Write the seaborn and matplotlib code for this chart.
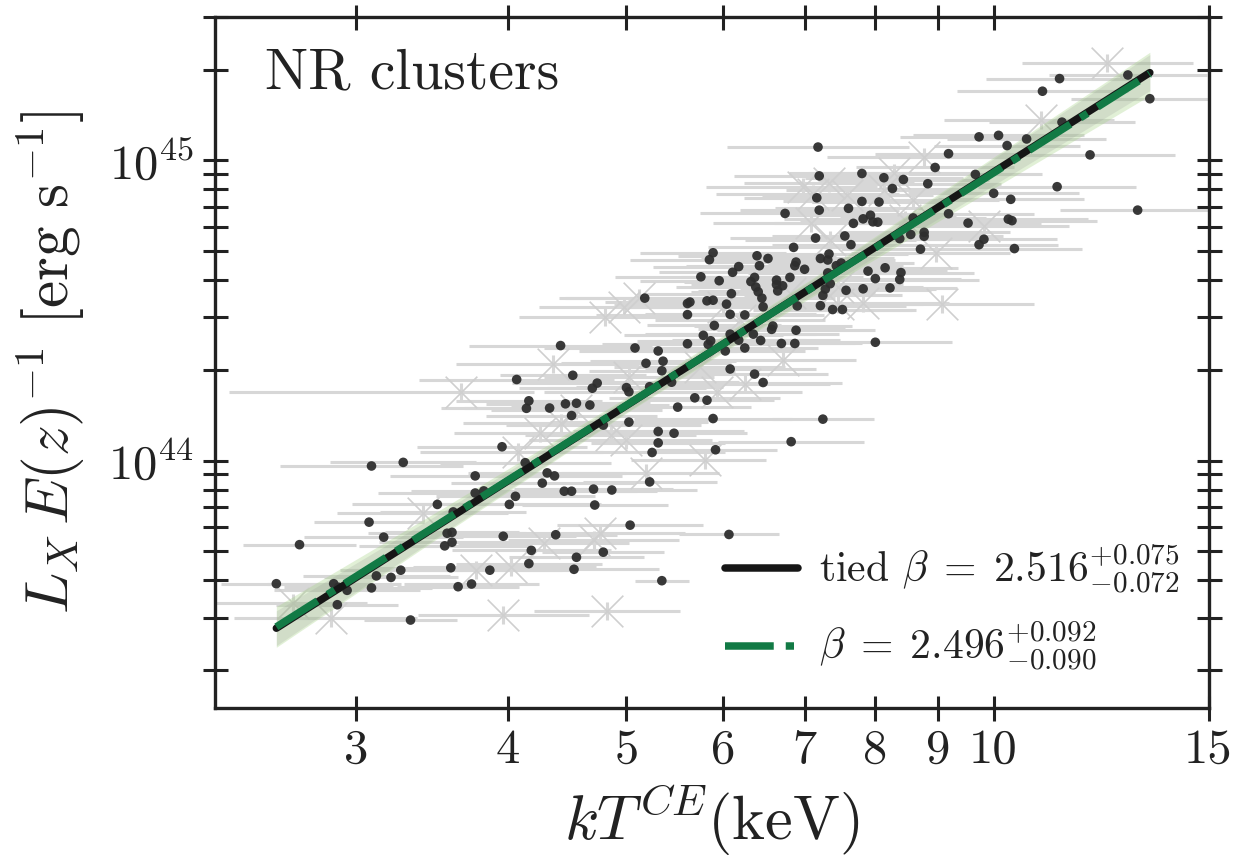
import numpy as np
import matplotlib
matplotlib.use("Agg")
import matplotlib.pyplot as plt
import matplotlib.ticker as mticker
import seaborn as sns

# ---------------- data (log10 units) ----------------
# NR clusters: log10(kT / keV)
logT_nr = [
    0.412, 0.431, 0.459, 0.462, 0.470, 0.463, 0.490, 0.516, 0.488, 0.500,
    0.490, 0.494, 0.506, 0.514, 0.522, 0.544, 0.557, 0.552, 0.556, 0.550,
    0.556, 0.555, 0.561, 0.572, 0.575, 0.575, 0.582, 0.587, 0.597, 0.598,
    0.603, 0.608, 0.609, 0.616, 0.619, 0.617, 0.645, 0.655, 0.636, 0.649,
    0.658, 0.654, 0.669, 0.671, 0.675, 0.680, 0.634, 0.640, 0.630, 0.648,
    0.654, 0.672, 0.673, 0.687, 0.641, 0.621, 0.619, 0.658, 0.656, 0.680,
    0.903, 0.860, 0.834, 0.783, 0.728, 0.702, 0.718, 0.772, 0.770, 0.738,
    0.725, 0.725, 0.720, 0.701, 0.741, 0.755, 0.765, 0.706, 0.725, 0.729,
    0.715, 0.728, 0.699, 0.701, 0.718, 0.736, 0.784, 0.804, 0.811, 0.749,
    0.768, 0.780, 0.784, 0.796, 0.791, 0.809, 0.803, 0.818, 0.838, 0.837,
    0.826, 0.858, 0.868, 0.876, 0.784, 0.796, 0.749, 0.749, 0.751, 0.762,
    0.766, 0.714, 0.765, 0.770, 0.781, 0.771, 0.819, 0.839, 1.054, 1.110,
    1.040, 1.128, 1.056, 0.988, 1.004, 1.011, 1.027, 1.079, 0.963, 0.952,
    0.985, 0.946, 1.000, 1.052, 1.014, 1.118, 0.963, 0.979, 1.012, 1.015,
    0.992, 0.988, 1.017, 0.856, 0.857, 0.855, 0.857, 0.829, 0.892, 0.910,
    0.926, 0.917, 0.892, 0.906, 0.881, 0.899, 0.893, 0.901, 0.905, 0.885,
    0.934, 0.943, 0.943, 0.932, 0.923, 0.940, 0.854, 0.878, 0.883, 0.836,
    0.858, 0.865, 0.864, 0.875, 0.838, 0.837, 0.845, 0.871, 0.897, 0.911,
    0.903, 0.924, 0.923, 0.915, 0.893, 0.879, 0.864, 0.866, 0.862, 0.860,
    0.770, 0.767, 0.791, 0.786, 0.806, 0.815, 0.808, 0.760, 0.775, 0.804,
    0.801, 0.805, 0.822, 0.822, 0.827, 0.833, 0.807, 0.823, 0.810, 0.785,
    0.811,
]
# NR clusters: log10(L_X E(z)^-1 / 1e44 erg s^-1)
logL_nr = [
    -0.410, -0.280, -0.410, -0.480, -0.432, -0.422, -0.018, -0.006, -0.205, -0.255,
    -0.424, -0.384, -0.389, -0.365, -0.531, -0.146, -0.171, -0.242, -0.239, -0.284,
    -0.272, -0.357, -0.420, -0.411, -0.051, -0.108, -0.101, -0.365, 0.046, -0.252,
    -0.146, -0.119, 0.270, -0.007, 0.199, 0.174, 0.383, 0.284, 0.175, 0.189,
    0.191, 0.150, 0.185, 0.241, 0.258, 0.118, -0.041, -0.051, -0.075, -0.102,
    -0.102, -0.095, -0.148, -0.098, -0.247, -0.299, -0.343, -0.322, -0.362, -0.305,
    0.394, 0.138, 0.063, -0.246, -0.400, -0.215, -0.071, 0.036, 0.140, 0.091,
    0.097, 0.059, 0.027, 0.128, 0.178, 0.209, 0.201, 0.375, 0.365, 0.331,
    0.324, 0.299, 0.243, 0.229, 0.246, 0.261, 0.305, 0.288, 0.260, 0.389,
    0.399, 0.365, 0.421, 0.375, 0.401, 0.400, 0.421, 0.437, 0.434, 0.390,
    0.390, 0.516, 0.503, 0.503, 0.487, 0.485, 0.486, 0.523, 0.528, 0.417,
    0.387, 0.541, 0.532, 0.534, 0.521, 0.450, 0.448, 0.515, 1.272, 1.284,
    1.230, 1.205, 1.127, 1.078, 1.083, 1.049, 1.071, 1.018, 1.022, 0.976,
    0.953, 0.922, 0.890, 0.912, 0.870, 0.834, 0.822, 0.791, 0.804, 0.799,
    0.737, 0.719, 0.706, 1.044, 0.948, 0.875, 0.834, 0.823, 0.956, 0.942,
    0.936, 0.906, 0.863, 0.861, 0.840, 0.817, 0.805, 0.795, 0.794, 0.790,
    0.808, 0.760, 0.747, 0.753, 0.739, 0.704, 0.741, 0.748, 0.719, 0.710,
    0.673, 0.688, 0.668, 0.658, 0.661, 0.649, 0.637, 0.649, 0.631, 0.642,
    0.606, 0.626, 0.603, 0.575, 0.572, 0.567, 0.625, 0.589, 0.571, 0.550,
    0.692, 0.669, 0.646, 0.627, 0.682, 0.673, 0.649, 0.612, 0.599, 0.610,
    0.596, 0.578, 0.601, 0.586, 0.582, 0.610, 0.562, 0.565, 0.541, 0.556,
    0.512,
]
# NR clusters: half-width of the kT error bar (dex)
errT_nr = [
    0.045, 0.046, 0.055, 0.050, 0.060, 0.045, 0.075, 0.060, 0.045, 0.065,
    0.050, 0.060, 0.055, 0.050, 0.038, 0.070, 0.060, 0.065, 0.055, 0.070,
    0.060, 0.065, 0.050, 0.055, 0.070, 0.080, 0.060, 0.065, 0.070, 0.060,
    0.075, 0.065, 0.080, 0.070, 0.060, 0.070, 0.075, 0.060, 0.070, 0.065,
    0.060, 0.070, 0.065, 0.060, 0.070, 0.080, 0.065, 0.055, 0.075, 0.060,
    0.070, 0.065, 0.060, 0.070, 0.050, 0.065, 0.060, 0.055, 0.070, 0.050,
    0.063, 0.042, 0.060, 0.041, 0.022, 0.060, 0.055, 0.050, 0.065, 0.060,
    0.070, 0.055, 0.060, 0.065, 0.060, 0.070, 0.055, 0.075, 0.065, 0.060,
    0.070, 0.060, 0.065, 0.070, 0.060, 0.055, 0.070, 0.060, 0.065, 0.070,
    0.060, 0.065, 0.070, 0.060, 0.055, 0.065, 0.070, 0.060, 0.065, 0.055,
    0.060, 0.070, 0.065, 0.060, 0.070, 0.065, 0.075, 0.060, 0.070, 0.065,
    0.060, 0.070, 0.065, 0.060, 0.070, 0.055, 0.065, 0.060, 0.060, 0.065,
    0.070, 0.065, 0.060, 0.065, 0.070, 0.060, 0.065, 0.070, 0.060, 0.065,
    0.055, 0.060, 0.070, 0.065, 0.060, 0.064, 0.070, 0.060, 0.065, 0.070,
    0.060, 0.065, 0.055, 0.075, 0.070, 0.060, 0.065, 0.070, 0.060, 0.065,
    0.070, 0.060, 0.065, 0.055, 0.060, 0.070, 0.065, 0.060, 0.055, 0.065,
    0.060, 0.070, 0.065, 0.060, 0.055, 0.065, 0.070, 0.060, 0.065, 0.070,
    0.060, 0.065, 0.055, 0.060, 0.070, 0.065, 0.060, 0.055, 0.065, 0.060,
    0.070, 0.060, 0.065, 0.055, 0.060, 0.070, 0.065, 0.060, 0.070, 0.065,
    0.060, 0.065, 0.070, 0.060, 0.065, 0.055, 0.060, 0.070, 0.065, 0.060,
    0.055, 0.065, 0.060, 0.070, 0.065, 0.060, 0.055, 0.065, 0.060, 0.070,
    0.065,
]

# second (grey cross) sample
logT_x = [
    1.093, 1.039, 0.943, 0.918, 0.910, 0.934, 0.852, 0.880, 0.844, 0.865,
    0.850, 0.866, 0.927, 0.953, 0.992, 0.958, 0.893, 0.872, 0.833, 0.778,
    0.792, 0.872, 0.827, 0.773, 0.796, 0.759, 0.709, 0.681, 0.697, 0.639,
    0.701, 0.658, 0.645, 0.628, 0.686, 0.699, 0.715, 0.763, 0.677, 0.563,
    0.610, 0.532, 0.631, 0.672, 0.604, 0.576, 0.598, 0.683, 0.457, 0.426,
]
logL_x = [
    1.323, 1.133, 1.010, 0.957, 0.900, 0.867, 0.889, 0.884, 0.910, 0.923,
    0.790, 0.734, 0.800, 0.691, 0.780, 0.523, 0.524, 0.577, 0.557, 0.511,
    0.468, 0.523, 0.334, 0.229, 0.255, 0.311, 0.540, 0.478, 0.512, 0.321,
    0.279, 0.168, 0.125, 0.092, 0.085, 0.068, -0.043, 0.002, -0.241, 0.230,
    0.027, -0.175, -0.276, -0.265, -0.354, -0.364, -0.514, -0.501, -0.523, -0.475,
]
errT_lo_x = [
    0.07, 0.08, 0.08, 0.07, 0.08, 0.07, 0.08, 0.07, 0.08, 0.07,
    0.08, 0.07, 0.07, 0.07, 0.07, 0.07, 0.08, 0.07, 0.07, 0.08,
    0.07, 0.07, 0.08, 0.07, 0.07, 0.07, 0.06, 0.07, 0.07, 0.08,
    0.07, 0.07, 0.08, 0.07, 0.07, 0.08, 0.07, 0.06, 0.07, 0.19,
    0.08, 0.07, 0.07, 0.07, 0.08, 0.07, 0.07, 0.06, 0.08, 0.07,
]
errT_hi_x = [
    0.07, 0.06, 0.07, 0.07, 0.06, 0.07, 0.07, 0.07, 0.06, 0.07,
    0.07, 0.07, 0.07, 0.06, 0.07, 0.075, 0.07, 0.07, 0.07, 0.07,
    0.07, 0.07, 0.06, 0.07, 0.07, 0.07, 0.06, 0.07, 0.07, 0.07,
    0.07, 0.07, 0.07, 0.07, 0.07, 0.07, 0.06, 0.05, 0.07, 0.06,
    0.07, 0.07, 0.07, 0.07, 0.07, 0.07, 0.07, 0.06, 0.07, 0.06,
]
errL_x = 0.03  # dex, vertical error of the cross sample

# fits (as drawn)
fit_pivot_T = 6.0          # keV
fit_norm_tied = 2.443e44   # erg/s at pivot
fit_slope_tied = 2.584
fit_norm_free = 2.443e44
fit_slope_free = 2.572
label_tied = r"tied $\beta\;=\;2.516^{+0.075}_{-0.072}$"
label_free = r"$\beta\;=\;2.496^{+0.092}_{-0.090}$"

# confidence band nodes: log10(kT) and half-width (dex)
band_logT = [0.412, 0.55, 0.70, 0.85, 1.00, 1.128]
band_hw_black = [0.058, 0.036, 0.022, 0.025, 0.044, 0.060]
band_hw_green = [0.068, 0.044, 0.026, 0.030, 0.052, 0.072]

xtick_vals = [3, 4, 5, 6, 7, 8, 9, 10, 15]
xtick_labels = ["3", "4", "5", "6", "7", "8", "9", "10", "15"]
title_text = "NR clusters"

# ---------------- style ----------------
sns.set_theme(style="ticks")
plt.rcParams.update({
    "font.family": "serif",
    "font.serif": ["cmr10"],
    "mathtext.fontset": "cm",
    "axes.formatter.use_mathtext": True,
    "axes.unicode_minus": False,
    "text.color": "#222222",
    "axes.labelcolor": "#222222",
    "axes.edgecolor": "#222222",
    "xtick.color": "#222222",
    "ytick.color": "#222222",
})

fig = plt.figure(figsize=(12.42, 8.57), dpi=100)
ax = fig.add_axes([0.17311, 0.17386, 0.79992, 0.80630])

kT_nr = 10 ** np.array(logT_nr)
L_nr = 1e44 * 10 ** np.array(logL_nr)
eT_nr = np.array(errT_nr)
kT_x = 10 ** np.array(logT_x)
L_x = 1e44 * 10 ** np.array(logL_x)

err_color = "#d7d7d7"
# error bars
ax.errorbar(kT_nr, L_nr,
            xerr=[kT_nr - kT_nr * 10 ** (-eT_nr), kT_nr * 10 ** eT_nr - kT_nr],
            fmt="none", ecolor=err_color, elinewidth=2.2, capsize=0, zorder=1)
ax.errorbar(kT_x, L_x,
            xerr=[kT_x - kT_x * 10 ** (-np.array(errT_lo_x)),
                  kT_x * 10 ** np.array(errT_hi_x) - kT_x],
            yerr=[L_x - L_x * 10 ** (-errL_x), L_x * 10 ** errL_x - L_x],
            fmt="none", ecolor=err_color, elinewidth=2.2, capsize=0, zorder=1)

# grey crosses
sns.scatterplot(x=kT_x, y=L_x, marker="x", s=520, color="#cfcfcf",
                linewidth=1.2, ax=ax, zorder=2, legend=False)

# fit lines / bands
T_line = np.geomspace(kT_nr.min(), kT_nr.max(), 200)
L_tied = fit_norm_tied * (T_line / fit_pivot_T) ** fit_slope_tied
L_free = fit_norm_free * (T_line / fit_pivot_T) ** fit_slope_free

Tb = 10 ** np.array(band_logT)
Lb_t = fit_norm_tied * (Tb / fit_pivot_T) ** fit_slope_tied
Lb_f = fit_norm_free * (Tb / fit_pivot_T) ** fit_slope_free
hw_k = np.array(band_hw_black)
hw_g = np.array(band_hw_green)
ax.fill_between(Tb, Lb_f * 10 ** (-hw_g), Lb_f * 10 ** hw_g,
                color="#a9d48a", alpha=0.35, lw=0, zorder=3)
ax.fill_between(Tb, Lb_t * 10 ** (-hw_k), Lb_t * 10 ** hw_k,
                color="#9a9a9a", alpha=0.22, lw=0, zorder=3)

# points
sns.scatterplot(x=kT_nr, y=L_nr, color="#2e2e2e", s=48, edgecolor="none",
                alpha=0.95, ax=ax, zorder=4, legend=False)

sns.lineplot(x=T_line, y=L_tied, color="#161616", lw=5.4, ax=ax,
             label=label_tied, zorder=6, errorbar=None, sort=False,
             solid_capstyle="round")
sns.lineplot(x=T_line, y=L_free, color="#127a45", lw=5.4, ax=ax,
             label=label_free, zorder=7, errorbar=None, sort=False,
             linestyle=(0, (6.5, 1.6, 1.1, 1.6)), dash_capstyle="butt")

# ---------------- axes ----------------
ax.set_xscale("log")
ax.set_yscale("log")
ax.set_xlim(2.3, 15)
ax.set_ylim(1.5e43, 3.0e45)
ax.xaxis.set_major_locator(mticker.FixedLocator(xtick_vals))
ax.xaxis.set_major_formatter(mticker.FixedFormatter(xtick_labels))
ax.xaxis.set_minor_locator(mticker.NullLocator())
ax.yaxis.set_major_locator(mticker.LogLocator(base=10))
ax.yaxis.set_minor_locator(mticker.LogLocator(base=10, subs=np.arange(2, 10)))
ax.yaxis.set_minor_formatter(mticker.NullFormatter())

ax.tick_params(which="both", direction="inout", length=18, width=2.2,
               top=True, right=True, labelsize=35, pad=6)
for s in ax.spines.values():
    s.set_linewidth(2.4)

ax.set_xlabel(r"$kT^{CE}(\mathrm{keV})$", fontsize=45, labelpad=6)
ax.set_ylabel(r"$L_X\, E(z)^{-1}\ [\mathrm{erg\ s^{-1}}]$", fontsize=44, labelpad=15)

ax.text(0.05, 0.897, title_text, transform=ax.transAxes, fontsize=41.5,
        va="baseline", ha="left")

leg = ax.legend(loc="lower right", bbox_to_anchor=(1.0, 0.008), frameon=False,
                fontsize=30, handlelength=1.75, handletextpad=0.5,
                labelspacing=0.58, borderaxespad=0.3)
for h in leg.get_lines():
    h.set_linewidth(5.4)

fig.savefig("out.png", dpi=100)
